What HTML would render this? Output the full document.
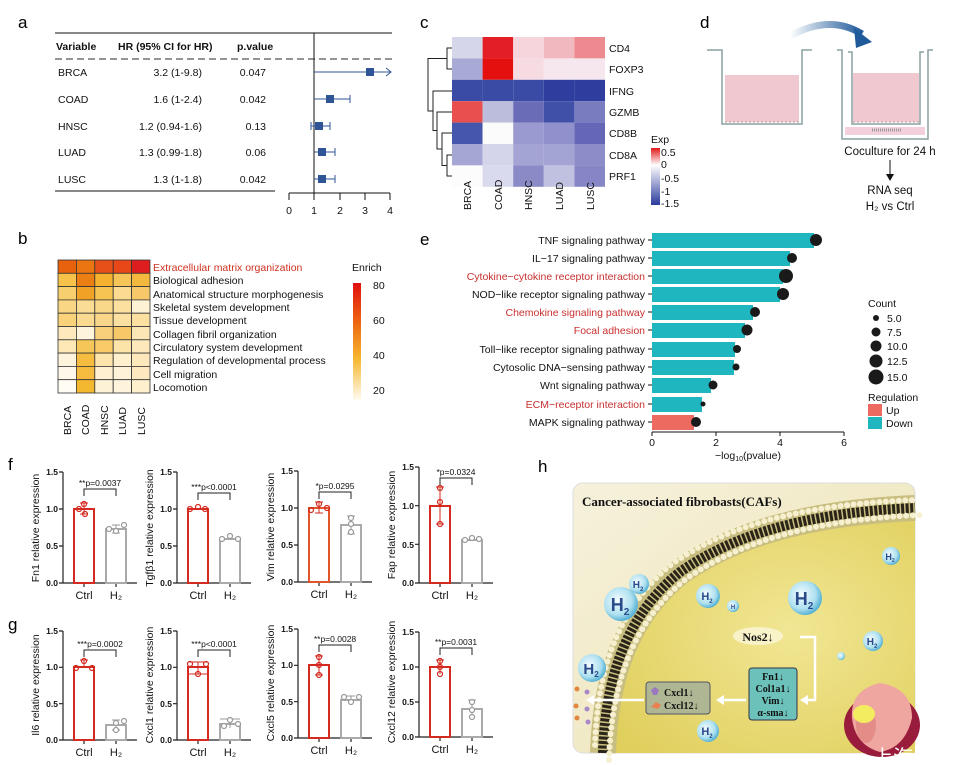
<!DOCTYPE html>
<html><head><meta charset="utf-8"><style>
body{margin:0;background:#fff}
svg{display:block;font-family:"Liberation Sans","Noto Sans CJK SC",sans-serif}
.s{font-family:"Liberation Serif",serif;font-weight:bold}
</style></head><body>
<svg width="953" height="765" viewBox="0 0 953 765" xmlns="http://www.w3.org/2000/svg">
<defs>
<linearGradient id="enr" x1="0" y1="0" x2="0" y2="1"><stop offset="0" stop-color="#e01010"/><stop offset="0.35" stop-color="#ee6a10"/><stop offset="0.65" stop-color="#f6b830"/><stop offset="1" stop-color="#fffaf0"/></linearGradient>
<linearGradient id="exp" x1="0" y1="0" x2="0" y2="1"><stop offset="0" stop-color="#e01818"/><stop offset="0.3" stop-color="#fff"/><stop offset="1" stop-color="#2a3a9c"/></linearGradient>
<linearGradient id="arr" x1="0" y1="0" x2="1" y2="0"><stop offset="0" stop-color="#fff"/><stop offset="1" stop-color="#1f5a9a"/></linearGradient>
<linearGradient id="bgH" x1="0" y1="0" x2="1" y2="1"><stop offset="0" stop-color="#f6f1dc"/><stop offset="1" stop-color="#ece2b0"/></linearGradient>
<radialGradient id="cell" cx="0.6" cy="0.5" r="0.7"><stop offset="0" stop-color="#f1e694"/><stop offset="1" stop-color="#e0cf5c"/></radialGradient>
<radialGradient id="bub" cx="0.4" cy="0.4" r="0.6"><stop offset="0" stop-color="#f4fcff"/><stop offset="0.7" stop-color="#aee0f0"/><stop offset="1" stop-color="#5ab4d6"/></radialGradient>
</defs>

<!-- Panel a -->
<text x="18" y="28" font-size="17">a</text>
<g font-size="10.5" fill="#111">
<path d="M55,33H392" stroke="#111" stroke-width="1"/>
<text x="56" y="50" font-weight="bold">Variable</text>
<text x="118" y="50" font-weight="bold">HR (95% CI for HR)</text>
<text x="237" y="50" font-weight="bold">p.value</text>
<path d="M55,59H392" stroke="#555" stroke-width="1.3" stroke-dasharray="7,4"/>
<text x="58" y="76">BRCA</text><text x="202" y="76" text-anchor="end">3.2 (1-9.8)</text><text x="266" y="76" text-anchor="end">0.047</text>
<text x="58" y="103">COAD</text><text x="202" y="103" text-anchor="end">1.6 (1-2.4)</text><text x="266" y="103" text-anchor="end">0.042</text>
<text x="58" y="130">HNSC</text><text x="202" y="130" text-anchor="end">1.2 (0.94-1.6)</text><text x="266" y="130" text-anchor="end">0.13</text>
<text x="58" y="156">LUAD</text><text x="202" y="156" text-anchor="end">1.3 (0.99-1.8)</text><text x="266" y="156" text-anchor="end">0.06</text>
<text x="58" y="183">LUSC</text><text x="202" y="183" text-anchor="end">1.3 (1-1.8)</text><text x="266" y="183" text-anchor="end">0.042</text>
<path d="M55,191H275" stroke="#111"/>
<path d="M314,33V193M289,193H390M289,193v7M314,193v7M340,193v7M365,193v7M390,193v7" stroke="#111" fill="none"/>
<text x="289" y="214" text-anchor="middle">0</text><text x="314" y="214" text-anchor="middle">1</text><text x="340" y="214" text-anchor="middle">2</text><text x="365" y="214" text-anchor="middle">3</text><text x="390" y="214" text-anchor="middle">4</text>
<g stroke="#2f5597" fill="none">
<path d="M314,72H391M386,68L391,72L386,76"/>
<path d="M314,99H350M350,95v8"/>
<path d="M311,126H330M311,122v8M330,122v8"/>
<path d="M314,152H335M335,148v8"/>
<path d="M314,179H335M335,175v8"/>
</g>
<g fill="#2f5597"><rect x="366" y="68" width="8" height="8"/><rect x="326" y="95" width="8" height="8"/><rect x="315" y="122" width="8" height="8"/><rect x="318" y="148" width="8" height="8"/><rect x="318" y="175" width="8" height="8"/></g>
</g>

<!-- Panel b -->
<text x="18" y="244" font-size="17">b</text>
<g stroke="#333" stroke-width="0.8">
<g transform="translate(58,260)">
<rect x="0" y="0" width="18.4" height="13.3" fill="#e8620e"/><rect x="18.4" y="0" width="18.4" height="13.3" fill="#eb7510"/><rect x="36.8" y="0" width="18.4" height="13.3" fill="#e8501a"/><rect x="55.2" y="0" width="18.4" height="13.3" fill="#e84818"/><rect x="73.6" y="0" width="18.4" height="13.3" fill="#de1e1e"/>
<rect x="0" y="13.3" width="18.4" height="13.3" fill="#f6c24a"/><rect x="18.4" y="13.3" width="18.4" height="13.3" fill="#ec7f14"/><rect x="36.8" y="13.3" width="18.4" height="13.3" fill="#f4b22e"/><rect x="55.2" y="13.3" width="18.4" height="13.3" fill="#f7c457"/><rect x="73.6" y="13.3" width="18.4" height="13.3" fill="#f5b83e"/>
<rect x="0" y="26.6" width="18.4" height="13.3" fill="#f8cf6e"/><rect x="18.4" y="26.6" width="18.4" height="13.3" fill="#f0a226"/><rect x="36.8" y="26.6" width="18.4" height="13.3" fill="#f6c452"/><rect x="55.2" y="26.6" width="18.4" height="13.3" fill="#fbdb92"/><rect x="73.6" y="26.6" width="18.4" height="13.3" fill="#f6c86a"/>
<rect x="0" y="39.9" width="18.4" height="13.3" fill="#f9d684"/><rect x="18.4" y="39.9" width="18.4" height="13.3" fill="#fadc94"/><rect x="36.8" y="39.9" width="18.4" height="13.3" fill="#f9d88a"/><rect x="55.2" y="39.9" width="18.4" height="13.3" fill="#fbe0a0"/><rect x="73.6" y="39.9" width="18.4" height="13.3" fill="#fdf2d4"/>
<rect x="0" y="53.2" width="18.4" height="13.3" fill="#f9d27a"/><rect x="18.4" y="53.2" width="18.4" height="13.3" fill="#fad990"/><rect x="36.8" y="53.2" width="18.4" height="13.3" fill="#f9d68a"/><rect x="55.2" y="53.2" width="18.4" height="13.3" fill="#fbe0a2"/><rect x="73.6" y="53.2" width="18.4" height="13.3" fill="#fbe0a2"/>
<rect x="0" y="66.5" width="18.4" height="13.3" fill="#fde9bc"/><rect x="18.4" y="66.5" width="18.4" height="13.3" fill="#fef4dc"/><rect x="36.8" y="66.5" width="18.4" height="13.3" fill="#f8d07c"/><rect x="55.2" y="66.5" width="18.4" height="13.3" fill="#f7c868"/><rect x="73.6" y="66.5" width="18.4" height="13.3" fill="#fde6b6"/>
<rect x="0" y="79.8" width="18.4" height="13.3" fill="#fde8b6"/><rect x="18.4" y="79.8" width="18.4" height="13.3" fill="#f7c658"/><rect x="36.8" y="79.8" width="18.4" height="13.3" fill="#f8cb68"/><rect x="55.2" y="79.8" width="18.4" height="13.3" fill="#fce3a8"/><rect x="73.6" y="79.8" width="18.4" height="13.3" fill="#fde8bc"/>
<rect x="0" y="93.1" width="18.4" height="13.3" fill="#fef4dc"/><rect x="18.4" y="93.1" width="18.4" height="13.3" fill="#f5bc40"/><rect x="36.8" y="93.1" width="18.4" height="13.3" fill="#fde4ac"/><rect x="55.2" y="93.1" width="18.4" height="13.3" fill="#fef0cc"/><rect x="73.6" y="93.1" width="18.4" height="13.3" fill="#fde8bc"/>
<rect x="0" y="106.4" width="18.4" height="13.3" fill="#fff8ea"/><rect x="18.4" y="106.4" width="18.4" height="13.3" fill="#f5bc40"/><rect x="36.8" y="106.4" width="18.4" height="13.3" fill="#fef0d0"/><rect x="55.2" y="106.4" width="18.4" height="13.3" fill="#fef2d8"/><rect x="73.6" y="106.4" width="18.4" height="13.3" fill="#fde8c0"/>
<rect x="0" y="119.7" width="18.4" height="13.3" fill="#fffcf4"/><rect x="18.4" y="119.7" width="18.4" height="13.3" fill="#f4b830"/><rect x="36.8" y="119.7" width="18.4" height="13.3" fill="#fef2d6"/><rect x="55.2" y="119.7" width="18.4" height="13.3" fill="#fef4dc"/><rect x="73.6" y="119.7" width="18.4" height="13.3" fill="#fef0cc"/>
</g></g>
<g font-size="10.5" fill="#111">
<text x="153" y="271" fill="#d03020">Extracellular matrix organization</text>
<text x="153" y="284">Biological adhesion</text>
<text x="153" y="298">Anatomical structure morphogenesis</text>
<text x="153" y="311">Skeletal system development</text>
<text x="153" y="324">Tissue development</text>
<text x="153" y="338">Collagen fibril organization</text>
<text x="153" y="351">Circulatory system development</text>
<text x="153" y="364">Regulation of developmental process</text>
<text x="153" y="378">Cell migration</text>
<text x="153" y="391">Locomotion</text>
<text x="352" y="271">Enrich</text>
<rect x="353" y="283" width="8" height="117" fill="url(#enr)"/>
<text x="373" y="289">80</text><text x="373" y="324">60</text><text x="373" y="359">40</text><text x="373" y="394">20</text>
<text transform="translate(71,435) rotate(-90)">BRCA</text>
<text transform="translate(89,435) rotate(-90)">COAD</text>
<text transform="translate(108,435) rotate(-90)">HNSC</text>
<text transform="translate(126,435) rotate(-90)">LUAD</text>
<text transform="translate(145,435) rotate(-90)">LUSC</text>
</g>

<!-- Panel c -->
<text x="420" y="28" font-size="17">c</text>
<g transform="translate(452,37)">
<rect x="0" y="0" width="30.6" height="21.4" fill="#d6d6ea"/><rect x="30.6" y="0" width="30.6" height="21.4" fill="#e41e26"/><rect x="61.2" y="0" width="30.6" height="21.4" fill="#f6d6dc"/><rect x="91.8" y="0" width="30.6" height="21.4" fill="#f2b8c0"/><rect x="122.4" y="0" width="30.6" height="21.4" fill="#ec8a90"/>
<rect x="0" y="21.4" width="30.6" height="21.4" fill="#a9a9d6"/><rect x="30.6" y="21.4" width="30.6" height="21.4" fill="#e41010"/><rect x="61.2" y="21.4" width="30.6" height="21.4" fill="#f6dce2"/><rect x="91.8" y="21.4" width="30.6" height="21.4" fill="#f6e6ee"/><rect x="122.4" y="21.4" width="30.6" height="21.4" fill="#f6e6ee"/>
<rect x="0" y="42.8" width="30.6" height="21.4" fill="#3a4ba5"/><rect x="30.6" y="42.8" width="30.6" height="21.4" fill="#3a4ba5"/><rect x="61.2" y="42.8" width="30.6" height="21.4" fill="#3a4ba5"/><rect x="91.8" y="42.8" width="30.6" height="21.4" fill="#2e3d9e"/><rect x="122.4" y="42.8" width="30.6" height="21.4" fill="#2e3d9e"/>
<rect x="0" y="64.2" width="30.6" height="21.4" fill="#e85050"/><rect x="30.6" y="64.2" width="30.6" height="21.4" fill="#bcbcdc"/><rect x="61.2" y="64.2" width="30.6" height="21.4" fill="#6a6cb8"/><rect x="91.8" y="64.2" width="30.6" height="21.4" fill="#4050a8"/><rect x="122.4" y="64.2" width="30.6" height="21.4" fill="#7a7cc0"/>
<rect x="0" y="85.6" width="30.6" height="21.4" fill="#4656ac"/><rect x="30.6" y="85.6" width="30.6" height="21.4" fill="#fbfbfb"/><rect x="61.2" y="85.6" width="30.6" height="21.4" fill="#9a9ad0"/><rect x="91.8" y="85.6" width="30.6" height="21.4" fill="#9090cc"/><rect x="122.4" y="85.6" width="30.6" height="21.4" fill="#6666b6"/>
<rect x="0" y="107" width="30.6" height="21.4" fill="#a6a6d4"/><rect x="30.6" y="107" width="30.6" height="21.4" fill="#d4d4ea"/><rect x="61.2" y="107" width="30.6" height="21.4" fill="#a4a4d4"/><rect x="91.8" y="107" width="30.6" height="21.4" fill="#a4a4d4"/><rect x="122.4" y="107" width="30.6" height="21.4" fill="#8c8cc8"/>
<rect x="0" y="128.4" width="30.6" height="21.4" fill="#fcfcfc"/><rect x="30.6" y="128.4" width="30.6" height="21.4" fill="#dadaee"/><rect x="61.2" y="128.4" width="30.6" height="21.4" fill="#8a8ac6"/><rect x="91.8" y="128.4" width="30.6" height="21.4" fill="#c0c0e0"/><rect x="122.4" y="128.4" width="30.6" height="21.4" fill="#8686c6"/>
</g>
<path d="M452,48H447V69H452M452,155H447V176H452M452,133H442V165.5H447M452,112H437V149H442M452,91H433V130.5H437M447,58.5H428V111H433" stroke="#222" fill="none"/>
<g font-size="10.5" fill="#111">
<text x="609" y="52">CD4</text><text x="609" y="73">FOXP3</text><text x="609" y="95">IFNG</text><text x="609" y="116">GZMB</text><text x="609" y="137">CD8B</text><text x="609" y="159">CD8A</text><text x="609" y="180">PRF1</text>
<text transform="translate(471,210) rotate(-90)">BRCA</text>
<text transform="translate(502,210) rotate(-90)">COAD</text>
<text transform="translate(532,210) rotate(-90)">HNSC</text>
<text transform="translate(563,210) rotate(-90)">LUAD</text>
<text transform="translate(594,210) rotate(-90)">LUSC</text>
<text x="651" y="143">Exp</text>
<rect x="651" y="148" width="9" height="57" fill="url(#exp)"/>
<text x="661" y="156">0.5</text><text x="661" y="168">0</text><text x="661" y="182">-0.5</text><text x="661" y="195">-1</text><text x="661" y="207">-1.5</text>
</g>

<!-- Panel d -->
<text x="700" y="28" font-size="17">d</text>
<path d="M790,36 Q830,14 862,34" stroke="url(#arr)" stroke-width="7" fill="none"/>
<path d="M854,28 L872,42 L856,48 Z" fill="#1f5a9a"/>
<g stroke="#8aa0a0" stroke-width="1.5" fill="none">
<path d="M707,50H722V124H802V50H812"/>
<path d="M837,50H842V139H928V50H933"/>
<path d="M848,52H852V124H920V52H924"/>
</g>
<rect x="725" y="75" width="74" height="47" fill="#f0c8d0"/>
<path d="M725,122H799" stroke="#b89890" stroke-dasharray="2,2"/>
<rect x="853" y="73" width="66" height="49" fill="#f0c8d0"/>
<path d="M853,122H919" stroke="#b89890" stroke-dasharray="2,2"/>
<rect x="845" y="127" width="80" height="8" fill="#f4d0dc"/>
<path d="M872,130h30" stroke="#999" stroke-dasharray="1,1" stroke-width="3"/>
<g font-size="11.5" fill="#111" text-anchor="middle">
<text x="890" y="155">Coculture for 24 h</text>
<text x="890" y="194">RNA seq</text>
<text x="890" y="210">H₂ vs Ctrl</text>
</g>
<path d="M890,160V175" stroke="#111"/><path d="M886,174L890,181L894,174Z" fill="#111"/>

<!-- Panel e -->
<text x="420" y="245" font-size="17">e</text>
<g font-size="10.5" fill="#111" text-anchor="end">
<text x="645" y="244">TNF signaling pathway</text>
<text x="645" y="262">IL−17 signaling pathway</text>
<text x="645" y="280" fill="#c83030">Cytokine−cytokine receptor interaction</text>
<text x="645" y="298">NOD−like receptor signaling pathway</text>
<text x="645" y="316" fill="#c83030">Chemokine signaling pathway</text>
<text x="645" y="334" fill="#c83030">Focal adhesion</text>
<text x="645" y="353">Toll−like receptor signaling pathway</text>
<text x="645" y="371">Cytosolic DNA−sensing pathway</text>
<text x="645" y="389">Wnt signaling pathway</text>
<text x="645" y="408" fill="#c83030">ECM−receptor interaction</text>
<text x="645" y="426">MAPK signaling pathway</text>
</g>
<g fill="#20b6c0">
<rect x="652" y="233" width="162" height="15"/>
<rect x="652" y="251" width="138" height="15"/>
<rect x="652" y="269" width="131" height="15"/>
<rect x="652" y="287" width="128" height="15"/>
<rect x="652" y="305" width="101" height="15"/>
<rect x="652" y="323" width="93" height="15"/>
<rect x="652" y="342" width="83" height="15"/>
<rect x="652" y="360" width="82" height="15"/>
<rect x="652" y="378" width="59" height="15"/>
<rect x="652" y="397" width="50" height="15"/>
<rect x="652" y="415" width="42" height="15" fill="#ec6a60"/>
</g>
<g fill="#1a1a1a">
<circle cx="816" cy="240" r="6"/><circle cx="792" cy="258" r="5"/><circle cx="786" cy="276" r="7"/><circle cx="783" cy="294" r="6"/>
<circle cx="755" cy="312" r="5"/><circle cx="747" cy="330" r="5.5"/><circle cx="737" cy="349" r="4"/><circle cx="736" cy="367" r="3.5"/>
<circle cx="713" cy="385" r="4.5"/><circle cx="703" cy="404" r="2.5"/><circle cx="696" cy="422" r="5"/>
</g>
<g stroke="#111" fill="none"><path d="M652,432H844M652,432v4M716,432v4M780,432v4M844,432v4"/>
<path d="M648,240h4M648,258h4M648,276h4M648,294h4M648,312h4M648,330h4M648,349h4M648,367h4M648,385h4M648,404h4M648,422h4"/></g>
<g font-size="10.5" fill="#111">
<text x="652" y="446" text-anchor="middle">0</text><text x="716" y="446" text-anchor="middle">2</text><text x="780" y="446" text-anchor="middle">4</text><text x="844" y="446" text-anchor="middle">6</text>
<text x="748" y="459" text-anchor="middle">−log<tspan font-size="7" dy="2">10</tspan><tspan dy="-2">(pvalue)</tspan></text>
<text x="868" y="307">Count</text>
<text x="887" y="322">5.0</text><text x="887" y="336">7.5</text><text x="887" y="350">10.0</text><text x="887" y="365">12.5</text><text x="887" y="381">15.0</text>
<text x="868" y="401">Regulation</text>
<text x="886" y="414">Up</text><text x="886" y="427">Down</text>
</g>
<g fill="#1a1a1a"><circle cx="876" cy="318" r="3"/><circle cx="876" cy="332" r="4.5"/><circle cx="876" cy="346" r="5.5"/><circle cx="876" cy="361" r="6.5"/><circle cx="876" cy="377" r="7.5"/></g>
<rect x="868" y="404" width="14" height="12" fill="#ec6a60"/><rect x="868" y="417" width="14" height="12" fill="#20b6c0"/>

<!-- Panels f, g -->
<text x="8" y="470" font-size="17">f</text>
<text x="8" y="630" font-size="17">g</text>
<g font-size="8.5" fill="#111">
<g transform="translate(63,583)">
<path d="M0,-111V0H74M-4,0H0M-4,-37H0M-4,-74H0M-4,-111H0M21,0v4M53,0v4" stroke="#222" fill="none" stroke-width="1.2"/>
<text x="-5" y="3" text-anchor="end" font-weight="bold">0.0</text><text x="-5" y="-34" text-anchor="end" font-weight="bold">0.5</text><text x="-5" y="-71" text-anchor="end" font-weight="bold">1.0</text><text x="-5" y="-108" text-anchor="end" font-weight="bold">1.5</text>
<rect x="11" y="-74" width="20" height="74" stroke="#d42a20" stroke-width="2" fill="none"/>
<rect x="43" y="-54" width="20" height="54" stroke="#aaa" stroke-width="2" fill="none"/>
<path d="M21,-80V-69M17,-80h8M17,-69h8" stroke="#d42a20"/><path d="M53,-58V-50M49,-58h8M49,-50h8" stroke="#999"/>
<g fill="none" stroke="#d42a20" stroke-width="1.2"><circle cx="21" cy="-79" r="2.5"/><circle cx="16" cy="-74" r="2.5"/><circle cx="22" cy="-69" r="2.5"/></g>
<g fill="#fff" stroke="#999" stroke-width="1.2"><circle cx="61" cy="-58" r="2.5"/><circle cx="53" cy="-52" r="2.5"/><circle cx="46" cy="-54" r="2.5"/></g>
<path d="M21,-87V-94H53V-87" stroke="#222" fill="none"/><text x="37" y="-97" text-anchor="middle">**p=0.0037</text>
<text x="21" y="16" text-anchor="middle" font-size="11">Ctrl</text><text x="53" y="16" text-anchor="middle" font-size="11">H₂</text>
<text transform="translate(-24,-55) rotate(-90)" text-anchor="middle" font-size="10.5">Fn1 relative expression</text>
</g>
<g transform="translate(177,583)">
<path d="M0,-111V0H74M-4,0H0M-4,-37H0M-4,-74H0M-4,-111H0M21,0v4M53,0v4" stroke="#222" fill="none" stroke-width="1.2"/>
<text x="-5" y="3" text-anchor="end" font-weight="bold">0.0</text><text x="-5" y="-34" text-anchor="end" font-weight="bold">0.5</text><text x="-5" y="-71" text-anchor="end" font-weight="bold">1.0</text><text x="-5" y="-108" text-anchor="end" font-weight="bold">1.5</text>
<rect x="11" y="-74" width="20" height="74" stroke="#d42a20" stroke-width="2" fill="none"/>
<rect x="43" y="-44" width="20" height="44" stroke="#aaa" stroke-width="2" fill="none"/>
<g fill="none" stroke="#d42a20" stroke-width="1.2"><circle cx="13" cy="-74" r="2.5"/><circle cx="21" cy="-76" r="2.5"/><circle cx="28" cy="-74" r="2.5"/></g>
<g fill="#fff" stroke="#999" stroke-width="1.2"><circle cx="45" cy="-44" r="2.5"/><circle cx="53" cy="-47" r="2.5"/><circle cx="61" cy="-44" r="2.5"/></g>
<path d="M21,-83V-90H53V-83" stroke="#222" fill="none"/><text x="37" y="-93" text-anchor="middle">***p&lt;0.0001</text>
<text x="21" y="16" text-anchor="middle" font-size="11">Ctrl</text><text x="53" y="16" text-anchor="middle" font-size="11">H₂</text>
<text transform="translate(-24,-55) rotate(-90)" text-anchor="middle" font-size="10.5">Tgfβ1 relative expression</text>
</g>
<g transform="translate(298,582)">
<path d="M0,-111V0H74M-4,0H0M-4,-37H0M-4,-74H0M-4,-111H0M21,0v4M53,0v4" stroke="#222" fill="none" stroke-width="1.2"/>
<text x="-5" y="3" text-anchor="end" font-weight="bold">0.0</text><text x="-5" y="-34" text-anchor="end" font-weight="bold">0.5</text><text x="-5" y="-71" text-anchor="end" font-weight="bold">1.0</text><text x="-5" y="-108" text-anchor="end" font-weight="bold">1.5</text>
<rect x="11" y="-74" width="20" height="74" stroke="#e0552a" stroke-width="2" fill="none"/>
<rect x="43" y="-57" width="20" height="57" stroke="#aaa" stroke-width="2" fill="none"/>
<path d="M21,-80V-69M17,-80h8M17,-69h8" stroke="#d42a20"/><path d="M53,-66V-48M49,-66h8M49,-48h8" stroke="#999"/>
<g fill="none" stroke="#d42a20" stroke-width="1.2"><circle cx="13" cy="-72" r="2.5"/><circle cx="21" cy="-78" r="2.5"/><circle cx="29" cy="-74" r="2.5"/></g>
<g fill="#fff" stroke="#999" stroke-width="1.2"><circle cx="53" cy="-64" r="2.5"/><circle cx="53" cy="-58" r="2.5"/><circle cx="53" cy="-50" r="2.5"/></g>
<path d="M21,-83V-90H53V-83" stroke="#222" fill="none"/><text x="37" y="-93" text-anchor="middle">*p=0.0295</text>
<text x="21" y="16" text-anchor="middle" font-size="11">Ctrl</text><text x="53" y="16" text-anchor="middle" font-size="11">H₂</text>
<text transform="translate(-24,-55) rotate(-90)" text-anchor="middle" font-size="10.5">Vim relative expression</text>
</g>
<g transform="translate(419,583)">
<path d="M0,-116V0H74M-4,0H0M-4,-38.7H0M-4,-77.3H0M-4,-116H0M21,0v4M53,0v4" stroke="#222" fill="none" stroke-width="1.2"/>
<text x="-5" y="3" text-anchor="end" font-weight="bold">0.0</text><text x="-5" y="-35" text-anchor="end" font-weight="bold">0.5</text><text x="-5" y="-74" text-anchor="end" font-weight="bold">1.0</text><text x="-5" y="-113" text-anchor="end" font-weight="bold">1.5</text>
<rect x="11" y="-77" width="20" height="77" stroke="#d42a20" stroke-width="2" fill="none"/>
<rect x="43" y="-43" width="20" height="43" stroke="#aaa" stroke-width="2" fill="none"/>
<path d="M21,-96V-59M17,-96h8M17,-59h8" stroke="#d42a20"/>
<g fill="none" stroke="#d42a20" stroke-width="1.2"><circle cx="21" cy="-95" r="2.5"/><circle cx="21" cy="-81" r="2.5"/><circle cx="21" cy="-59" r="2.5"/></g>
<g fill="#fff" stroke="#999" stroke-width="1.2"><circle cx="46" cy="-43" r="2.5"/><circle cx="53" cy="-45" r="2.5"/><circle cx="60" cy="-44" r="2.5"/></g>
<path d="M21,-98V-105H53V-98" stroke="#222" fill="none"/><text x="37" y="-108" text-anchor="middle">*p=0.0324</text>
<text x="21" y="16" text-anchor="middle" font-size="11">Ctrl</text><text x="53" y="16" text-anchor="middle" font-size="11">H₂</text>
<text transform="translate(-24,-58) rotate(-90)" text-anchor="middle" font-size="10.5">Fap relative expression</text>
</g>

<g transform="translate(63,740)">
<path d="M0,-109V0H74M-4,0H0M-4,-36.3H0M-4,-72.7H0M-4,-109H0M21,0v4M53,0v4" stroke="#222" fill="none" stroke-width="1.2"/>
<text x="-5" y="3" text-anchor="end" font-weight="bold">0.0</text><text x="-5" y="-33" text-anchor="end" font-weight="bold">0.5</text><text x="-5" y="-70" text-anchor="end" font-weight="bold">1.0</text><text x="-5" y="-106" text-anchor="end" font-weight="bold">1.5</text>
<rect x="11" y="-73" width="20" height="73" stroke="#d42a20" stroke-width="2" fill="none"/>
<rect x="43" y="-15" width="20" height="15" stroke="#aaa" stroke-width="2" fill="none"/>
<path d="M21,-80V-73M17,-80h8" stroke="#d42a20"/><path d="M53,-20V-10M49,-20h8M49,-10h8" stroke="#999"/>
<g fill="none" stroke="#d42a20" stroke-width="1.2"><circle cx="13" cy="-72" r="2.5"/><circle cx="21" cy="-79" r="2.5"/><circle cx="29" cy="-72" r="2.5"/></g>
<g fill="#fff" stroke="#999" stroke-width="1.2"><circle cx="53" cy="-17" r="2.5"/><circle cx="53" cy="-10" r="2.5"/><circle cx="61" cy="-19" r="2.5"/></g>
<path d="M21,-83V-90H53V-83" stroke="#222" fill="none"/><text x="37" y="-93" text-anchor="middle">***p=0.0002</text>
<text x="21" y="16" text-anchor="middle" font-size="11">Ctrl</text><text x="53" y="16" text-anchor="middle" font-size="11">H₂</text>
<text transform="translate(-24,-55) rotate(-90)" text-anchor="middle" font-size="10.5">Il6 relative expression</text>
</g>
<g transform="translate(177,740)">
<path d="M0,-109V0H74M-4,0H0M-4,-36.3H0M-4,-72.7H0M-4,-109H0M21,0v4M53,0v4" stroke="#222" fill="none" stroke-width="1.2"/>
<text x="-5" y="3" text-anchor="end" font-weight="bold">0.0</text><text x="-5" y="-33" text-anchor="end" font-weight="bold">0.5</text><text x="-5" y="-70" text-anchor="end" font-weight="bold">1.0</text><text x="-5" y="-106" text-anchor="end" font-weight="bold">1.5</text>
<rect x="11" y="-73" width="20" height="73" stroke="#d42a20" stroke-width="2" fill="none"/>
<rect x="43" y="-16" width="20" height="16" stroke="#aaa" stroke-width="2" fill="none"/>
<path d="M21,-78V-66M11,-78h20M11,-66h20" stroke="#d42a20"/><path d="M53,-21V-12M43,-21h20" stroke="#999"/>
<g fill="none" stroke="#d42a20" stroke-width="1.2"><circle cx="13" cy="-76" r="2.5"/><circle cx="21" cy="-66" r="2.5"/><circle cx="29" cy="-76" r="2.5"/></g>
<g fill="#fff" stroke="#999" stroke-width="1.2"><circle cx="53" cy="-20" r="2.5"/><circle cx="61" cy="-16" r="2.5"/><circle cx="47" cy="-14" r="2.5"/></g>
<path d="M21,-83V-90H53V-83" stroke="#222" fill="none"/><text x="37" y="-93" text-anchor="middle">***p&lt;0.0001</text>
<text x="21" y="16" text-anchor="middle" font-size="11">Ctrl</text><text x="53" y="16" text-anchor="middle" font-size="11">H₂</text>
<text transform="translate(-24,-55) rotate(-90)" text-anchor="middle" font-size="10.5">Cxcl1 relative expression</text>
</g>
<g transform="translate(298,738)">
<path d="M0,-109V0H74M-4,0H0M-4,-36.3H0M-4,-72.7H0M-4,-109H0M21,0v4M53,0v4" stroke="#222" fill="none" stroke-width="1.2"/>
<text x="-5" y="3" text-anchor="end" font-weight="bold">0.0</text><text x="-5" y="-33" text-anchor="end" font-weight="bold">0.5</text><text x="-5" y="-70" text-anchor="end" font-weight="bold">1.0</text><text x="-5" y="-106" text-anchor="end" font-weight="bold">1.5</text>
<rect x="11" y="-73" width="20" height="73" stroke="#d42a20" stroke-width="2" fill="none"/>
<rect x="43" y="-38" width="20" height="38" stroke="#aaa" stroke-width="2" fill="none"/>
<path d="M21,-82V-63M17,-82h8M17,-63h8" stroke="#d42a20"/><path d="M53,-42V-34M49,-42h8" stroke="#999"/>
<g fill="none" stroke="#d42a20" stroke-width="1.2"><circle cx="21" cy="-81" r="2.5"/><circle cx="21" cy="-73" r="2.5"/><circle cx="21" cy="-63" r="2.5"/></g>
<g fill="#fff" stroke="#999" stroke-width="1.2"><circle cx="46" cy="-41" r="2.5"/><circle cx="53" cy="-36" r="2.5"/><circle cx="61" cy="-41" r="2.5"/></g>
<path d="M21,-86V-93H53V-86" stroke="#222" fill="none"/><text x="37" y="-96" text-anchor="middle">**p=0.0028</text>
<text x="21" y="16" text-anchor="middle" font-size="11">Ctrl</text><text x="53" y="16" text-anchor="middle" font-size="11">H₂</text>
<text transform="translate(-24,-55) rotate(-90)" text-anchor="middle" font-size="10.5">Cxcl5 relative expression</text>
</g>
<g transform="translate(419,737)">
<path d="M0,-105V0H74M-4,0H0M-4,-35H0M-4,-70H0M-4,-105H0M21,0v4M53,0v4" stroke="#222" fill="none" stroke-width="1.2"/>
<text x="-5" y="3" text-anchor="end" font-weight="bold">0.0</text><text x="-5" y="-32" text-anchor="end" font-weight="bold">0.5</text><text x="-5" y="-67" text-anchor="end" font-weight="bold">1.0</text><text x="-5" y="-102" text-anchor="end" font-weight="bold">1.5</text>
<rect x="11" y="-70" width="20" height="70" stroke="#d42a20" stroke-width="2" fill="none"/>
<rect x="43" y="-28" width="20" height="28" stroke="#aaa" stroke-width="2" fill="none"/>
<path d="M21,-77V-63M17,-77h8" stroke="#d42a20"/><path d="M53,-37V-20M49,-37h8" stroke="#999"/>
<g fill="none" stroke="#d42a20" stroke-width="1.2"><circle cx="21" cy="-76" r="2.5"/><circle cx="21" cy="-70" r="2.5"/><circle cx="21" cy="-63" r="2.5"/></g>
<g fill="#fff" stroke="#999" stroke-width="1.2"><circle cx="53" cy="-35" r="2.5"/><circle cx="53" cy="-27" r="2.5"/><circle cx="53" cy="-20" r="2.5"/></g>
<path d="M21,-82V-89H53V-82" stroke="#222" fill="none"/><text x="37" y="-92" text-anchor="middle">**p=0.0031</text>
<text x="21" y="16" text-anchor="middle" font-size="11">Ctrl</text><text x="53" y="16" text-anchor="middle" font-size="11">H₂</text>
<text transform="translate(-24,-55) rotate(-90)" text-anchor="middle" font-size="10.5">Cxcl12 relative expression</text>
</g>
</g>

<!-- Panel h -->
<text x="538" y="472" font-size="17">h</text>
<rect x="573" y="483" width="342" height="270" rx="10" fill="url(#bgH)" stroke="#ddd"/>
<path d="M603,753 C605,690 620,620 680,572 C740,530 820,512 915,508 V753 Z" fill="url(#cell)"/>
<g fill="none">
<path d="M603,753 C605,690 620,620 680,572 C740,530 820,512 915,508" stroke="#c8be80" stroke-width="26"/>
<path d="M603,753 C605,690 620,620 680,572 C740,530 820,512 915,508" stroke="#2a2418" stroke-width="10" stroke-dasharray="3,1.5"/>
<path transform="translate(-8,-8)" d="M603,753 C605,690 620,620 680,572 C740,530 820,512 923,508" stroke="#f6f0d0" stroke-width="6" stroke-dasharray="0,6.5" stroke-linecap="round"/>
<path transform="translate(6,7)" d="M603,753 C605,690 620,620 680,572 C740,530 820,512 915,508" stroke="#f6f0d0" stroke-width="6" stroke-dasharray="0,6.5" stroke-linecap="round"/>
</g>
<text x="582" y="506" class="s" font-size="13" fill="#111">Cancer-associated fibrobasts(CAFs)</text>
<g font-weight="bold" fill="#2a4a8a" text-anchor="middle">
<circle cx="621" cy="604" r="17" fill="url(#bub)"/><text x="620" y="611" font-size="18">H<tspan font-size="10" dy="4">2</tspan></text>
<circle cx="639" cy="584" r="10" fill="url(#bub)"/><text x="638" y="588" font-size="10">H<tspan font-size="6" dy="3">2</tspan></text>
<circle cx="592" cy="668" r="14" fill="url(#bub)"/><text x="591" y="674" font-size="15">H<tspan font-size="8" dy="3">2</tspan></text>
<circle cx="708" cy="596" r="12" fill="url(#bub)"/><text x="707" y="600" font-size="11">H<tspan font-size="6" dy="3">2</tspan></text>
<circle cx="733" cy="606" r="6" fill="url(#bub)"/><text x="733" y="609" font-size="6">H</text>
<circle cx="805" cy="598" r="17" fill="url(#bub)"/><text x="804" y="605" font-size="18">H<tspan font-size="10" dy="4">2</tspan></text>
<circle cx="891" cy="556" r="9" fill="url(#bub)"/><text x="890" y="560" font-size="9">H<tspan font-size="5" dy="2">2</tspan></text>
<circle cx="873" cy="641" r="10" fill="url(#bub)"/><text x="872" y="645" font-size="10">H<tspan font-size="6" dy="3">2</tspan></text>
<circle cx="708" cy="731" r="11" fill="url(#bub)"/><text x="707" y="735" font-size="11">H<tspan font-size="6" dy="3">2</tspan></text>
<circle cx="841" cy="656" r="4" fill="url(#bub)"/>
</g>
<ellipse cx="758" cy="636" rx="25" ry="9" fill="#fbf6d8" opacity="0.8"/>
<text x="758" y="641" class="s" font-size="12" fill="#111" text-anchor="middle">Nos2↓</text>
<g stroke="#fff" stroke-width="2.5" fill="none">
<path d="M800,637H815V700H806"/><path d="M746,700H722"/><path d="M644,700H592"/>
</g>
<g fill="#fff"><path d="M800,700l8,-5v10z"/><path d="M716,700l8,-5v10z"/><path d="M586,700l8,-5v10z"/></g>
<rect x="749" y="668" width="48" height="52" rx="3" fill="#6cc2ba" stroke="#334"/>
<g class="s" font-size="10" fill="#111" text-anchor="middle">
<text x="773" y="680">Fn1↓</text><text x="773" y="692">Col1a1↓</text><text x="773" y="704">Vim↓</text><text x="773" y="716">α-sma↓</text>
</g>
<rect x="646" y="682" width="64" height="32" rx="3" fill="#aeb694" stroke="#556"/>
<path d="M651,690l4,-3l4,3l-2,5h-4z" fill="#9a78c0"/><path d="M651,707l5,-5l5,3l-3,4z" fill="#e88050"/>
<g class="s" font-size="10" fill="#111"><text x="664" y="696">Cxcl1↓</text><text x="664" y="709">Cxcl12↓</text></g>
<g fill="#e08840"><circle cx="577" cy="689" r="2.5"/><circle cx="576" cy="706" r="2.5"/><circle cx="577" cy="718" r="2.5"/></g>
<g fill="#a888c8"><circle cx="587" cy="692" r="2.5"/><circle cx="587" cy="709" r="2.5"/><circle cx="588" cy="722" r="2.5"/></g>
<ellipse cx="882" cy="725" rx="38" ry="32" fill="#9a1c3c"/>
<path d="M852,718 Q850,690 880,683 Q912,688 912,718 Q905,748 880,752 Q855,745 852,718Z" fill="#f0a6a0"/>
<ellipse cx="866" cy="725" rx="10" ry="18" fill="#e48c88"/>
<ellipse cx="864" cy="714" rx="11" ry="9" fill="#f4ec60"/>
<text x="873" y="764" font-size="20" fill="#fff">上海</text>
</svg>
</body></html>
